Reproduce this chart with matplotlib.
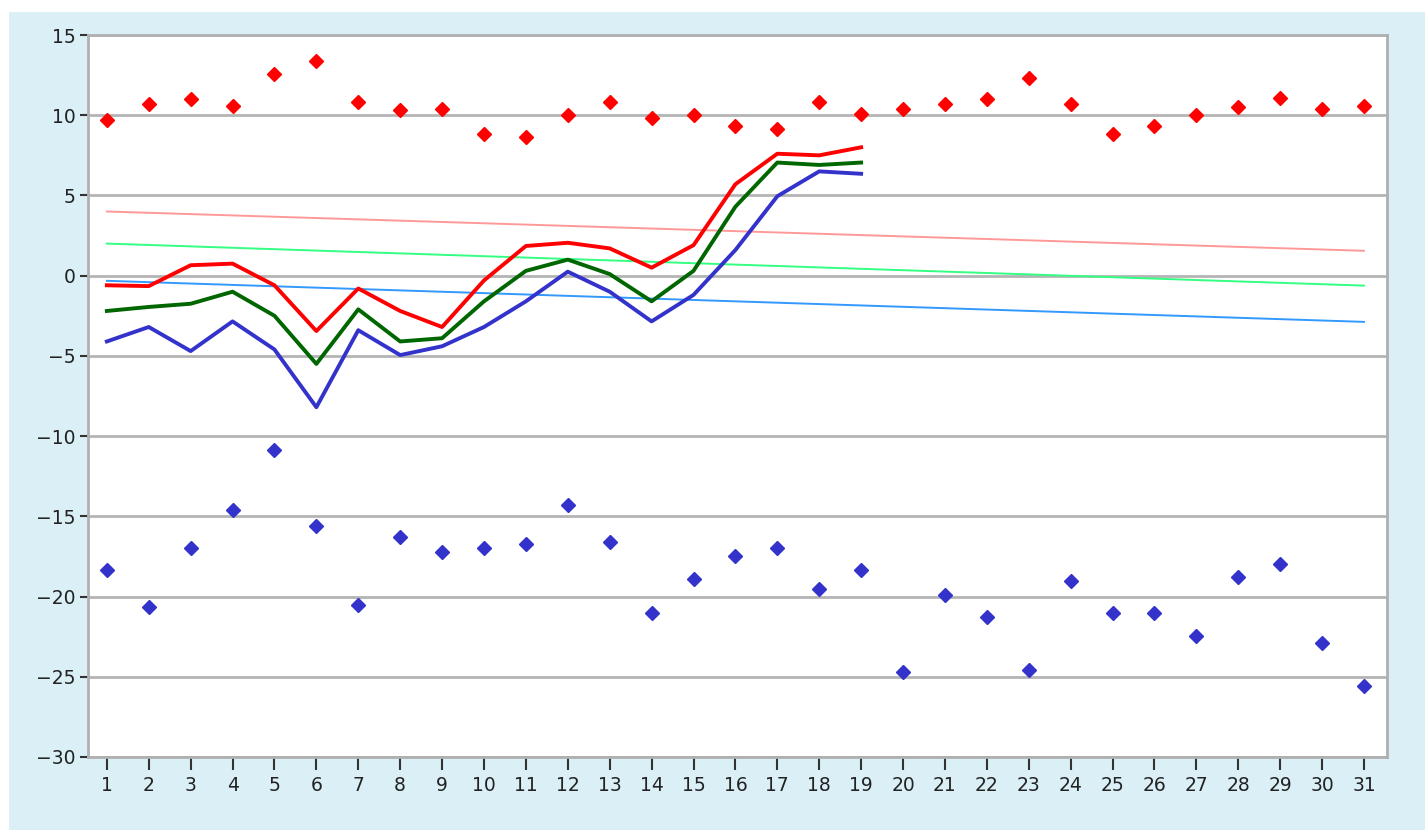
import matplotlib.pyplot as plt
from matplotlib.patches import Rectangle

# categories on the x axis
days = list(range(1, 32))

# scattered diamonds
red_pts = [9.7, 10.7, 11.0, 10.6, 12.6, 13.4, 10.8, 10.3, 10.4, 8.8,
           8.65, 10.0, 10.8, 9.8, 10.0, 9.3, 9.15, 10.8, 10.1, 10.4,
           10.7, 11.0, 12.3, 10.7, 8.8, 9.3, 10.0, 10.5, 11.1, 10.4, 10.6]
blue_pts = [-18.35, -20.65, -17.0, -14.6, -10.85, -15.6, -20.5, -16.3, -17.2, -17.0,
            -16.7, -14.3, -16.6, -21.0, -18.9, -17.5, -17.0, -19.5, -18.35, -24.7,
            -19.9, -21.3, -24.6, -19.0, -21.0, -21.0, -22.45, -18.8, -18.0, -22.9, -25.6]

# thick lines (first 19 days only)
line_days = days[:19]
red_line = [-0.6, -0.65, 0.65, 0.75, -0.6, -3.45, -0.8, -2.2, -3.2, -0.3,
            1.85, 2.05, 1.7, 0.5, 1.9, 5.7, 7.6, 7.5, 8.0]
green_line = [-2.2, -1.95, -1.75, -1.0, -2.5, -5.5, -2.1, -4.1, -3.9, -1.6,
              0.3, 1.0, 0.1, -1.6, 0.3, 4.3, 7.05, 6.9, 7.05]
blue_line = [-4.1, -3.2, -4.7, -2.85, -4.6, -8.2, -3.4, -4.95, -4.4, -3.2,
             -1.6, 0.25, -1.0, -2.85, -1.2, 1.6, 4.95, 6.5, 6.35]

# thin trend lines (start / end)
trend_x = [1, 31]
pink_trend = [4.0, 1.55]
lgreen_trend = [2.0, -0.62]
lblue_trend = [-0.32, -2.88]

fig = plt.figure(figsize=(14.25, 8.3), dpi=100)
fig.patch.set_facecolor('white')
fig.patches.append(Rectangle((9 / 1425, 0), 1 - 9 / 1425, 1 - 12 / 830,
                             transform=fig.transFigure, facecolor='#daeff6',
                             edgecolor='none', zorder=-10))

ax = fig.add_axes([88 / 1425, 73 / 830, 1299 / 1425, 722 / 830])
ax.set_zorder(5)
ax.set_facecolor('white')

ax.plot(trend_x, pink_trend, color='#ff9999', lw=1.4, zorder=2)
ax.plot(trend_x, lgreen_trend, color='#33ff80', lw=1.4, zorder=2)
ax.plot(trend_x, lblue_trend, color='#3399ff', lw=1.4, zorder=2)

ax.plot(line_days, red_line, color='#ff0000', lw=2.8, zorder=3)
ax.plot(line_days, green_line, color='#006600', lw=2.8, zorder=3)
ax.plot(line_days, blue_line, color='#3333cc', lw=2.8, zorder=3)

ax.plot(days, red_pts, ls='none', marker='D', ms=7, color='#ff0000',
        mec='#ff0000', zorder=4)
ax.plot(days, blue_pts, ls='none', marker='D', ms=7, color='#3333cc',
        mec='#3333cc', zorder=4)

ax.set_xlim(0.55, 31.55)
ax.set_ylim(-30, 15)
ax.set_yticks(range(-30, 16, 5))
ax.set_yticklabels([str(v).replace('-', '\u2212') for v in range(-30, 16, 5)])
ax.set_xticks(days)
ax.set_xticklabels([str(d) for d in days])

ax.grid(axis='y', color='#b4b4b4', lw=2)
ax.set_axisbelow(True)
for s in ax.spines.values():
    s.set_color('#b0b0b0')
    s.set_linewidth(2)

ax.tick_params(axis='y', length=6, width=1.5, color='#333333', labelsize=13.5,
               labelcolor='#222222', pad=3)
ax.tick_params(axis='x', length=9, width=1.5, color='#333333', labelsize=13.5,
               labelcolor='#222222', pad=5)

fig.savefig('out.png', dpi=100, facecolor=fig.get_facecolor())
